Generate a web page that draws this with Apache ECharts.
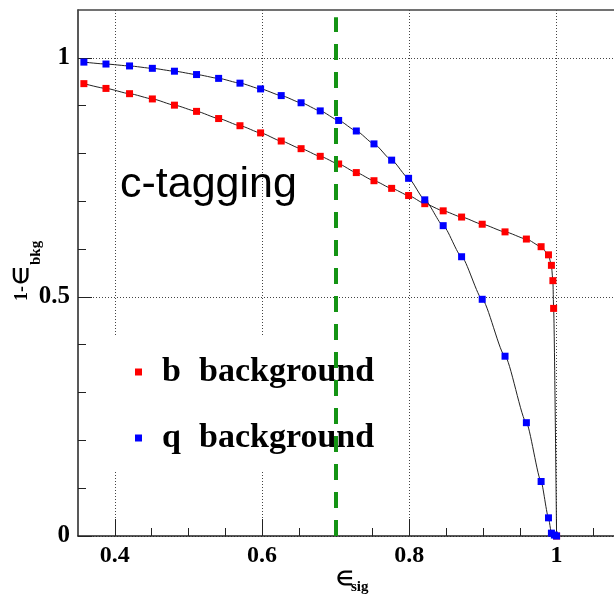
<!DOCTYPE html>
<html>
<head>
<meta charset="utf-8">
<script src="https://cdn.jsdelivr.net/npm/echarts@6/dist/echarts.min.js"></script>
<style>html,body{margin:0;padding:0;background:#fff}#c{width:614px;height:595px}</style>
</head>
<body>
<div id="c"></div>
<script>
// ---- data ----
var bEff = [0.358,0.388,0.420,0.451,0.481,0.511,0.541,0.570,0.598,0.626,0.653,0.679,0.704,0.728,0.752,0.776,0.799,0.821,0.846,0.871,0.899,0.930,0.959,0.979,0.989,0.993,0.995,0.996,1.0];
var bRej = [0.946,0.936,0.925,0.914,0.901,0.888,0.873,0.858,0.843,0.826,0.810,0.794,0.778,0.760,0.743,0.727,0.712,0.695,0.680,0.667,0.652,0.636,0.621,0.605,0.588,0.566,0.534,0.476,0.0];
var qEff = [0.358,0.388,0.420,0.451,0.481,0.511,0.541,0.570,0.598,0.626,0.653,0.679,0.704,0.728,0.752,0.776,0.799,0.821,0.846,0.871,0.899,0.930,0.959,0.979,0.989,0.993,0.997,1.0];
var qRej = [0.991,0.987,0.983,0.978,0.972,0.965,0.957,0.947,0.935,0.921,0.906,0.889,0.869,0.847,0.820,0.786,0.748,0.703,0.649,0.584,0.495,0.376,0.237,0.114,0.038,0.006,0.002,0.0];
var workingPoint = 0.7;
var xMajorTicks = [0.4, 0.6, 0.8, 1.0];
var xMinorTicks = [0.45, 0.5, 0.55, 0.65, 0.7, 0.75, 0.85, 0.9, 0.95, 1.05];
var yMajorTicks = [0, 0.5, 1.0];
var yMinorTicks = [0.1, 0.2, 0.3, 0.4, 0.6, 0.7, 0.8, 0.9];
var seriesNames = ['b background', 'q background'];
var legendTags = {'b background': 'b', 'q background': 'q'};

function pairs(xs, ys) { return xs.map(function (x, i) { return [x, ys[i]]; }); }

var SERIF = '"Liberation Serif","Times New Roman",serif';
var axisCol = '#222';
var chart = echarts.init(document.getElementById('c'), null, {renderer: 'canvas'});
var xMin = 0.35, xMax = 1.078;
chart.setOption({
  animation: false,
  backgroundColor: '#fff',
  grid: {left: 78, right: 0, top: 10, bottom: 59, containLabel: false},
  xAxis: [
    {type: 'value', min: xMin, max: xMax, position: 'bottom',
     axisLine: {show: true, onZero: false, lineStyle: {color: axisCol, width: 1.5}},
     axisTick: {show: true, inside: true, length: 17, customValues: xMajorTicks, lineStyle: {color: axisCol, width: 1}},
     axisLabel: {show: true, customValues: xMajorTicks, margin: 8, color: '#000', fontFamily: SERIF, fontWeight: 'bold', fontSize: 24},
     splitLine: {show: true, lineStyle: {color: '#444', width: 1, type: [1, 2]}}},
    {type: 'value', min: xMin, max: xMax, position: 'bottom',
     axisLine: {show: false, onZero: false},
     axisTick: {show: true, inside: true, length: 8, customValues: xMinorTicks, lineStyle: {color: axisCol, width: 1}},
     axisLabel: {show: false}, splitLine: {show: false}},
    {type: 'value', min: xMin, max: xMax, position: 'top',
     axisLine: {show: true, onZero: false, lineStyle: {color: '#444', width: 1.5}},
     axisTick: {show: false}, axisLabel: {show: false}, splitLine: {show: false}}
  ],
  yAxis: [
    {type: 'value', min: 0, max: 1.1, position: 'left',
     axisLine: {show: true, onZero: false, lineStyle: {color: axisCol, width: 1.5}},
     axisTick: {show: true, inside: true, length: 14, customValues: yMajorTicks, lineStyle: {color: axisCol, width: 1}},
     axisLabel: {show: true, customValues: yMajorTicks, margin: 8, color: '#000', fontFamily: SERIF, fontWeight: 'bold', fontSize: 25},
     splitLine: {show: true, lineStyle: {color: '#444', width: 1, type: [1, 2]}}},
    {type: 'value', min: 0, max: 1.1, position: 'left',
     axisLine: {show: false, onZero: false},
     axisTick: {show: true, inside: true, length: 8, customValues: yMinorTicks, lineStyle: {color: axisCol, width: 1}},
     axisLabel: {show: false}, splitLine: {show: false}}
  ],
  legend: {
    data: seriesNames,
    orient: 'vertical',
    left: 95, top: 337,
    padding: [15, 22, 12, 40],
    backgroundColor: '#fff',
    z: 3,
    icon: 'rect',
    itemWidth: 7, itemHeight: 7, itemGap: 26,
    selectedMode: false,
    formatter: function (name) { return '{s|}{t|' + legendTags[name] + '}{w|background}'; },
    textStyle: {
      color: '#000', fontFamily: SERIF, fontWeight: 'bold', fontSize: 34, lineHeight: 40,
      rich: {
        s: {width: 15, lineHeight: 40},
        t: {width: 37, fontFamily: SERIF, fontWeight: 'bold', fontSize: 34, lineHeight: 40, color: '#000'},
        w: {fontFamily: SERIF, fontWeight: 'bold', fontSize: 34, lineHeight: 40, color: '#000'}
      }
    }
  },
  graphic: [
    {type: 'text', x: 120, y: 185, z: 1,
     style: {text: 'c-tagging', fill: '#000', font: '43px "Liberation Sans", Arial, sans-serif', textAlign: 'left', textVerticalAlign: 'middle'}},
    {type: 'group', x: 22, y: 301, rotation: Math.PI / 2, children: [
      {type: 'text', x: 0, y: 0, style: {text: '1-', fill: '#000', font: 'bold 18px ' + SERIF, textAlign: 'left', textVerticalAlign: 'middle'}},
      {type: 'text', x: 16, y: 1, style: {text: '\u2208', fill: '#000', font: 'bold 21px ' + SERIF, textAlign: 'left', textVerticalAlign: 'middle'}},
      {type: 'text', x: 36, y: 14, style: {text: 'bkg', fill: '#000', font: 'bold 15px ' + SERIF, textAlign: 'left', textVerticalAlign: 'middle'}}
    ]},
    {type: 'text', x: 336, y: 580, style: {text: '\u2208', fill: '#000', font: 'bold 20px ' + SERIF, textAlign: 'left', textVerticalAlign: 'middle'}},
    {type: 'text', x: 351, y: 587, style: {text: 'sig', fill: '#000', font: 'bold 15px ' + SERIF, textAlign: 'left', textVerticalAlign: 'middle'}}
  ],
  series: [
    {name: seriesNames[0], type: 'line', xAxisIndex: 0, yAxisIndex: 0, z: 2,
     data: pairs(bEff, bRej), smooth: 0.2, smoothMonotone: 'x',
     symbol: 'rect', symbolSize: 7, showSymbol: true,
     itemStyle: {color: '#ff0000'}, lineStyle: {color: '#222', width: 1}},
    {name: seriesNames[1], type: 'line', xAxisIndex: 0, yAxisIndex: 0, z: 3,
     data: pairs(qEff, qRej), smooth: 0.2, smoothMonotone: 'x',
     symbol: 'rect', symbolSize: 7, showSymbol: true,
     itemStyle: {color: '#0000ff'}, lineStyle: {color: '#222', width: 1}},
    {name: 'wp', type: 'line', xAxisIndex: 0, yAxisIndex: 0, z: 6, data: [], silent: true,
     markLine: {silent: true, symbol: 'none', z: 6, label: {show: false},
       lineStyle: {color: '#149414', width: 4, type: [16, 12]},
       data: [[{coord: [workingPoint, 0]}, {coord: [workingPoint, 1.085]}]]}}
  ]
});
</script>
</body>
</html>
